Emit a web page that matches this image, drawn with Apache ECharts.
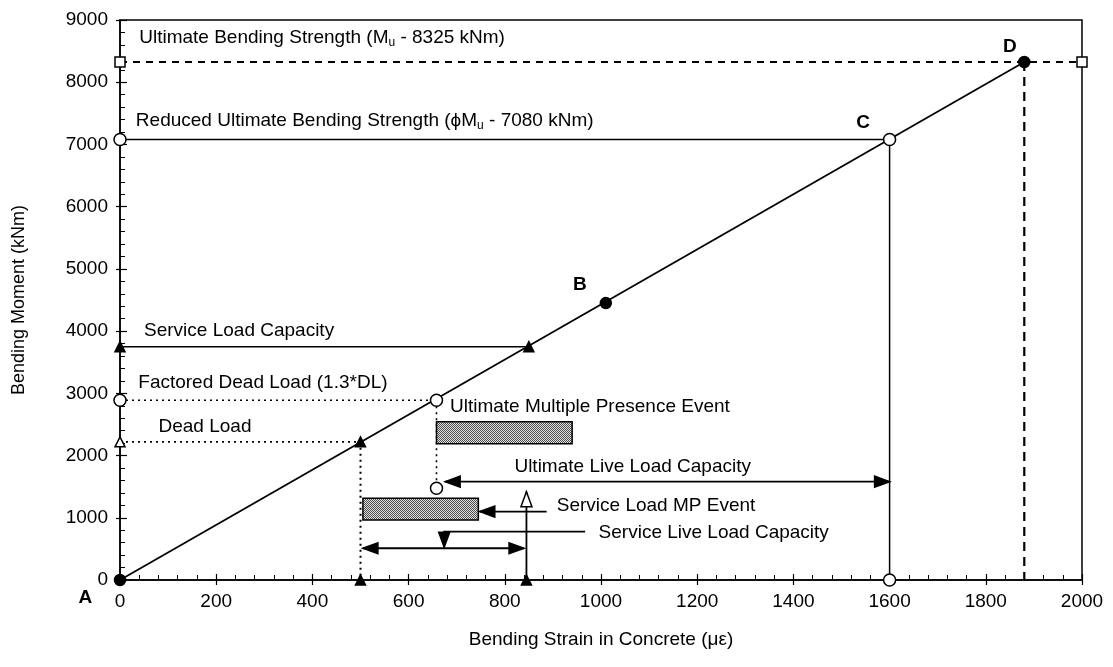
<!DOCTYPE html>
<html><head><meta charset="utf-8">
<script src="https://cdn.jsdelivr.net/npm/echarts@6/dist/echarts.min.js"></script>
<style>html,body{margin:0;background:#fff}#chart{width:1113px;height:667px}</style>
</head><body><div id="chart"></div>
<script>
const FONT = '"Liberation Sans", Arial, Helvetica, sans-serif';

// Moment-strain response of the girder section (A -> D)
const responseStrain = [0, 1880];
const responseMoment = [0, 8325];

// Key states along the response
const stateNames  = ['A', 'B', 'C', 'D'];
const stateStrain = [0, 1010, 1600, 1880];
const stateMoment = [0, 4450, 7080, 8325];

// Capacity / load levels
const ultimateMoment = 8325;          // Mu
const reducedMoment = 7080;           // phi*Mu
const serviceCapMoment = 3750;
const serviceCapStrain = 850;
const factoredDeadMoment = 2890;      // 1.3*DL
const factoredDeadStrain = 658;
const deadMoment = 2220;
const deadStrain = 500;
const ultimateMPLowMoment = 1475;
const serviceLiveEndStrain = 845;

// Multiple presence event bands: [strainFrom, strainTo, momentFrom, momentTo]
const ultimateMPBand = [658, 940, 2190, 2545];
const serviceMPBand  = [505, 745, 965, 1315];

// Arrow paths (strain, moment) and which ends carry heads
const arrowPaths = [
  [[1600, 1580], [676, 1580]],
  [[887, 1100], [748, 1100]],
  [[967, 776], [674, 776], [674, 525]],
  [[840, 510], [505, 510]],
  [[845, 0], [845, 1420]]
];
const arrowStartHead = [true, false, false, true, false];
const arrowOpenHead  = [false, false, false, false, true];

// Annotation texts and anchors (left edge, vertical middle)
const noteTexts = [
  'Ultimate Bending Strength (M{s|u} - 8325 kNm)',
  'Reduced Ultimate Bending Strength (\u03d5M{s|u} - 7080 kNm)',
  'Service Load Capacity',
  'Factored Dead Load (1.3*DL)',
  'Dead Load',
  'Ultimate Multiple Presence Event',
  'Ultimate Live Load Capacity',
  'Service Load MP Event',
  'Service Live Load Capacity'
];
const noteStrain = [40, 33, 50, 38, 80, 686, 820, 908, 995];
const noteMoment = [8710, 7380, 4000, 3170, 2465, 2785, 1820, 1190, 760];

// State letter anchors (centre)
const letterStrain = [-72, 956, 1545, 1850];
const letterMoment = [-290, 4740, 7350, 8570];

// Stipple pattern for the event bands
const stipple = document.createElement('canvas');
stipple.width = 4; stipple.height = 4;
(function () {
  const c = stipple.getContext('2d');
  c.fillStyle = '#e4e4e4'; c.fillRect(0, 0, 4, 4);
  c.fillStyle = '#4a4a4a';
  c.fillRect(0, 0, 1, 1); c.fillRect(2, 0, 1, 1);
  c.fillRect(1, 1, 1, 1); c.fillRect(3, 1, 1, 1);
  c.fillRect(0, 2, 1, 1); c.fillRect(2, 2, 1, 1);
  c.fillRect(1, 3, 1, 1); c.fillRect(3, 3, 1, 1);
})();

function guide(points, type, width) {
  return {
    type: 'line', data: points, symbol: 'none', silent: true, z: 2,
    lineStyle: { color: '#000', width: width || 1.5, type: type || 'solid' },
    animation: false
  };
}
function markers(points, symbol, size, filled) {
  return {
    type: 'scatter', data: points, symbol: symbol, symbolSize: size, clip: false, z: 5,
    itemStyle: { color: filled ? '#000' : '#fff', borderColor: '#000', borderWidth: 1.5, opacity: 1 },
    animation: false
  };
}

const responseData = responseStrain.map((s, i) => [s, responseMoment[i]]);

const series = [
  guide(responseData, 'solid', 1.8),
  guide([[0, ultimateMoment], [2000, ultimateMoment]], [7, 6], 2),
  guide([[stateStrain[3], stateMoment[3]], [stateStrain[3], 0]], [9, 6], 2.2),
  guide([[0, reducedMoment], [stateStrain[2], reducedMoment]], 'solid', 1.5),
  guide([[stateStrain[2], reducedMoment], [stateStrain[2], 0]], 'solid', 1.5),
  guide([[0, serviceCapMoment], [serviceCapStrain, serviceCapMoment]], 'solid', 1.5),
  guide([[0, factoredDeadMoment], [factoredDeadStrain, factoredDeadMoment]], [2, 4], 1.6),
  guide([[factoredDeadStrain, factoredDeadMoment], [factoredDeadStrain, ultimateMPLowMoment]], [2, 4], 1.6),
  guide([[0, deadMoment], [deadStrain, deadMoment]], [2, 4], 1.6),
  guide([[deadStrain, deadMoment], [deadStrain, 0]], [2, 4], 2),
  {
    type: 'custom', z: 3, animation: false, silent: true,
    data: [ultimateMPBand, serviceMPBand],
    renderItem: function (params, api) {
      const p0 = api.coord([api.value(0), api.value(3)]);
      const p1 = api.coord([api.value(1), api.value(2)]);
      return {
        type: 'rect',
        shape: { x: p0[0], y: p0[1], width: p1[0] - p0[0], height: p1[1] - p0[1] },
        style: { fill: { image: stipple, repeat: 'repeat' }, stroke: '#000', lineWidth: 1.5 }
      };
    }
  },
  {
    type: 'custom', z: 4, animation: false, silent: true, clip: false,
    data: arrowPaths.map((p, i) => [i]),
    renderItem: function (params, api) {
      const idx = params.dataIndex;
      const pts = arrowPaths[idx].map(p => api.coord(p));
      const children = [{
        type: 'polyline', shape: { points: pts },
        style: { stroke: '#000', lineWidth: 1.8, fill: null }
      }];
      function head(tip, from) {
        const dx = tip[0] - from[0], dy = tip[1] - from[1];
        const len = Math.sqrt(dx * dx + dy * dy);
        const ux = dx / len, uy = dy / len;
        const L = 15, W = 5.5;
        const bx = tip[0] - ux * L, by = tip[1] - uy * L;
        const open = arrowOpenHead[idx];
        children.push({
          type: 'polygon',
          shape: { points: [tip, [bx - uy * W, by + ux * W], [bx + uy * W, by - ux * W]] },
          style: { fill: open ? '#fff' : '#000', stroke: '#000', lineWidth: 1.5 }
        });
      }
      head(pts[pts.length - 1], pts[pts.length - 2]);
      if (arrowStartHead[idx]) head(pts[0], pts[1]);
      return { type: 'group', children: children };
    }
  },
  markers([0, 1, 3].map(i => [stateStrain[i], stateMoment[i]]), 'circle', 11, true),
  markers([[0, reducedMoment], [stateStrain[2], reducedMoment], [0, factoredDeadMoment],
           [factoredDeadStrain, factoredDeadMoment], [factoredDeadStrain, ultimateMPLowMoment],
           [stateStrain[2], 0]], 'circle', 12, false),
  markers([[0, ultimateMoment], [2000, ultimateMoment]], 'rect', 10, false),
  markers([[0, serviceCapMoment], [serviceCapStrain, serviceCapMoment], [deadStrain, deadMoment],
           [deadStrain, 0], [serviceLiveEndStrain, 0]], 'triangle', 10, true),
  markers([[0, deadMoment]], 'triangle', 10, false),
  {
    type: 'custom', z: 6, animation: false, silent: true, clip: false,
    data: noteTexts.map((t, i) => [noteStrain[i], noteMoment[i]]),
    renderItem: function (params, api) {
      const p = api.coord([api.value(0), api.value(1)]);
      return {
        type: 'text', x: p[0], y: p[1],
        style: {
          text: noteTexts[params.dataIndex], fill: '#000',
          fontSize: 19, fontFamily: FONT, align: 'left', verticalAlign: 'middle',
          rich: { s: { fontSize: 12, fontFamily: FONT, padding: [9, 0, 0, 0] } }
        }
      };
    }
  },
  {
    type: 'custom', z: 6, animation: false, silent: true, clip: false,
    data: stateNames.map((t, i) => [letterStrain[i], letterMoment[i]]),
    renderItem: function (params, api) {
      const p = api.coord([api.value(0), api.value(1)]);
      return {
        type: 'text', x: p[0], y: p[1],
        style: {
          text: stateNames[params.dataIndex], fill: '#000',
          fontSize: 19, fontWeight: 'bold', fontFamily: FONT, align: 'center', verticalAlign: 'middle'
        }
      };
    }
  }
];

const axisText = { color: '#000', fontSize: 19, fontFamily: FONT, formatter: v => String(v) };

const option = {
  backgroundColor: '#fff',
  animation: false,
  grid: { left: 120, right: 31, top: 20, bottom: 87, show: true, borderColor: '#000', borderWidth: 1.5 },
  xAxis: [{
    type: 'value', min: 0, max: 2000, interval: 200,
    name: 'Bending Strain in Concrete (\u03bc\u03b5)', nameLocation: 'middle', nameGap: 50,
    nameTextStyle: { color: '#000', fontSize: 19, fontFamily: FONT },
    axisLine: { lineStyle: { color: '#000', width: 1.5 } },
    axisTick: { inside: true, length: 6, lineStyle: { color: '#000', width: 1.2 } },
    minorTick: { show: true, splitNumber: 5, length: 5, lineStyle: { color: '#000', width: 1 } },
    axisLabel: Object.assign({ margin: 12 }, axisText),
    splitLine: { show: false }
  }, {
    type: 'value', min: 0, max: 2000, interval: 200, position: 'bottom',
    axisLine: { show: false },
    axisTick: { inside: false, length: 5, lineStyle: { color: '#000', width: 1.2 } },
    axisLabel: { show: false }, splitLine: { show: false }
  }],
  yAxis: [{
    type: 'value', min: 0, max: 9000, interval: 1000,
    name: 'Bending Moment (kNm)', nameLocation: 'middle', nameGap: 92,
    nameTextStyle: { color: '#000', fontSize: 18, fontFamily: FONT },
    axisLine: { lineStyle: { color: '#000', width: 1.5 } },
    axisTick: { inside: true, length: 7, lineStyle: { color: '#000', width: 1.2 } },
    minorTick: { show: true, splitNumber: 5, length: 5, lineStyle: { color: '#000', width: 1 } },
    axisLabel: Object.assign({ margin: 12 }, axisText),
    splitLine: { show: false }
  }, {
    type: 'value', min: 0, max: 9000, interval: 1000, position: 'left',
    axisLine: { show: false },
    axisTick: { inside: false, length: 4, lineStyle: { color: '#000', width: 1.2 } },
    axisLabel: { show: false }, splitLine: { show: false }
  }],
  series: series
};

const chart = echarts.init(document.getElementById('chart'), null, { renderer: 'canvas' });
chart.setOption(option);
</script>
</body></html>
